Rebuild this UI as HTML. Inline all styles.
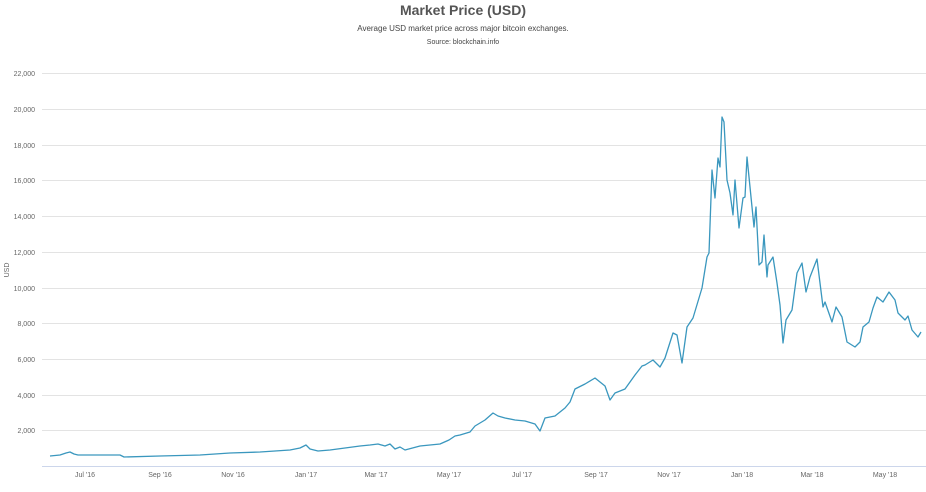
<!DOCTYPE html><html><head><meta charset="utf-8"><style>
body{margin:0;background:#fff;font-family:"Liberation Sans",sans-serif}
</style></head><body>
<svg width="926" height="487" xmlns="http://www.w3.org/2000/svg" font-family="Liberation Sans, sans-serif">
<text x="463" y="15" text-anchor="middle" font-size="14" font-weight="bold" fill="#555">Market Price (USD)</text>
<text x="463" y="31" text-anchor="middle" font-size="8" fill="#444">Average USD market price across major bitcoin exchanges.</text>
<text x="463" y="44" text-anchor="middle" font-size="7" fill="#444">Source: blockchain.info</text>
<g stroke="#e3e3e3" stroke-width="1">
<line x1="42" x2="926" y1="73.5" y2="73.5"/><line x1="42" x2="926" y1="109.5" y2="109.5"/><line x1="42" x2="926" y1="145.5" y2="145.5"/><line x1="42" x2="926" y1="180.5" y2="180.5"/><line x1="42" x2="926" y1="216.5" y2="216.5"/><line x1="42" x2="926" y1="252.5" y2="252.5"/><line x1="42" x2="926" y1="288.5" y2="288.5"/><line x1="42" x2="926" y1="323.5" y2="323.5"/><line x1="42" x2="926" y1="359.5" y2="359.5"/><line x1="42" x2="926" y1="395.5" y2="395.5"/><line x1="42" x2="926" y1="430.5" y2="430.5"/>
</g>
<line x1="42" x2="926" y1="466.5" y2="466.5" stroke="#ccd6eb"/>
<g font-size="7" fill="#666" text-anchor="end">
<text x="35" y="76">22,000</text><text x="35" y="112">20,000</text><text x="35" y="148">18,000</text><text x="35" y="183">16,000</text><text x="35" y="219">14,000</text><text x="35" y="255">12,000</text><text x="35" y="291">10,000</text><text x="35" y="326">8,000</text><text x="35" y="362">6,000</text><text x="35" y="398">4,000</text><text x="35" y="433">2,000</text>
</g>
<text transform="translate(9,270) rotate(-90)" font-size="7" fill="#666" text-anchor="middle">USD</text>
<g font-size="7" fill="#666" text-anchor="middle">
<text x="85" y="477">Jul '16</text><text x="160" y="477">Sep '16</text><text x="233" y="477">Nov '16</text><text x="306" y="477">Jan '17</text><text x="376" y="477">Mar '17</text><text x="449" y="477">May '17</text><text x="522" y="477">Jul '17</text><text x="596" y="477">Sep '17</text><text x="669" y="477">Nov '17</text><text x="742" y="477">Jan '18</text><text x="812" y="477">Mar '18</text><text x="885" y="477">May '18</text>
</g>
<polyline fill="none" stroke="#3a97be" stroke-width="1.3" stroke-linejoin="round" points="50,456 60,455 66,453 70,452 74,454 78,455 100,455 120,455 124,457 160,456 200,455 230,453 260,452 290,450 300,448 306,445 310,449 318,451 330,450 345,448 360,446 370,445 378,444 385,446 390,444 395,449 400,447 405,450 420,446 440,444 449,440 455,436 460,435 470,432 475,426 485,420 493,413 498,416 505,418 515,420 525,421 535,424 540,431 545,418 555,416 565,408 570,402 575,389 585,384 595,378 600,382 605,386 610,400 615,393 625,389 635,375 642,366 645,365 653,360 660,367 665,358 673,333 677,335 682,363 687,327 693,318 702,288 707,257 709,253 712,170 715,198 718,158 720,167 722,117 724,122 727,180 730,193 733,215 735,180 739,228 743,198 745,197 747,157 751,197 754,227 756,207 759,265 762,262 764,235 767,277 768,265 773,257 777,283 780,305 783,343 786,320 792,310 797,273 802,263 806,292 810,277 817,259 823,307 825,302 832,322 836,307 842,317 847,342 855,347 860,342 863,327 869,322 873,308 877,297 883,302 889,292 895,300 898,313 905,320 908,316 912,330 918,337 921,332"/>
</svg>
</body></html>
